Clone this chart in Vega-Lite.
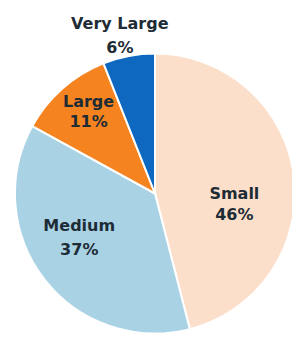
{
  "$schema": "https://vega.github.io/schema/vega-lite/v6.json",
  "width": 274,
  "height": 293,
  "autosize": "none",
  "padding": {"left": 18, "top": 47, "right": 0, "bottom": 0},
  "background": "white",
  "view": {"stroke": null},
  "data": {
    "values": [
      {"size": "Small", "pct": 46, "idx": 1},
      {"size": "Medium", "pct": 37, "idx": 2},
      {"size": "Large", "pct": 11, "idx": 3},
      {"size": "Very Large", "pct": 6, "idx": 4}
    ]
  },
  "transform": [
    {"stack": "pct", "groupby": [], "sort": [{"field": "idx", "order": "ascending"}], "as": ["t0", "t1"]},
    {"calculate": "(datum.t0 + datum.t1) / 2", "as": "tm"},
    {"calculate": "datum.size + '\\n' + datum.pct + '%'", "as": "label"}
  ],
  "layer": [
    {
      "mark": {"type": "arc", "outerRadius": 140, "stroke": "white", "strokeWidth": 2},
      "encoding": {
        "theta": {"field": "t0", "type": "quantitative", "scale": {"domain": [0, 100]}},
        "theta2": {"field": "t1"},
        "color": {
          "field": "size",
          "type": "nominal",
          "scale": {
            "domain": ["Small", "Medium", "Large", "Very Large"],
            "range": ["#FCDFCB", "#A9D3E5", "#F5831F", "#0F68BF"]
          },
          "legend": null
        }
      }
    },
    {
      "transform": [{"filter": "datum.size === 'Small'"}],
      "mark": {"type": "text", "radius": 80, "dy": 11, "font": "DejaVu Sans", "fontWeight": "bold", "fontSize": 16, "lineBreak": "\n", "lineHeight": 21, "align": "center", "baseline": "middle", "fill": "#1E2C36"},
      "encoding": {"theta": {"field": "tm", "type": "quantitative", "scale": {"domain": [0, 100]}}, "text": {"field": "label"}}
    },
    {
      "transform": [{"filter": "datum.size === 'Medium'"}],
      "mark": {"type": "text", "radius": 87, "dx": -7, "dy": -21, "font": "DejaVu Sans", "fontWeight": "bold", "fontSize": 16, "lineBreak": "\n", "lineHeight": 24, "align": "center", "baseline": "middle", "fill": "#1E2C36"},
      "encoding": {"theta": {"field": "tm", "type": "quantitative", "scale": {"domain": [0, 100]}}, "text": {"field": "label"}}
    },
    {
      "transform": [{"filter": "datum.size === 'Large'"}],
      "mark": {"type": "text", "radius": 105, "dx": 3, "dy": -13, "font": "DejaVu Sans", "fontWeight": "bold", "fontSize": 16, "lineBreak": "\n", "lineHeight": 20, "align": "center", "baseline": "middle", "fill": "#1E2C36"},
      "encoding": {"theta": {"field": "tm", "type": "quantitative", "scale": {"domain": [0, 100]}}, "text": {"field": "label"}}
    },
    {
      "transform": [{"filter": "datum.size === 'Very Large'"}],
      "mark": {"type": "text", "radius": 161, "dx": -5, "dy": -11, "font": "DejaVu Sans", "fontWeight": "bold", "fontSize": 16, "lineBreak": "\n", "lineHeight": 24, "align": "center", "baseline": "middle", "fill": "#1E2C36"},
      "encoding": {"theta": {"field": "tm", "type": "quantitative", "scale": {"domain": [0, 100]}}, "text": {"field": "label"}}
    }
  ]
}
